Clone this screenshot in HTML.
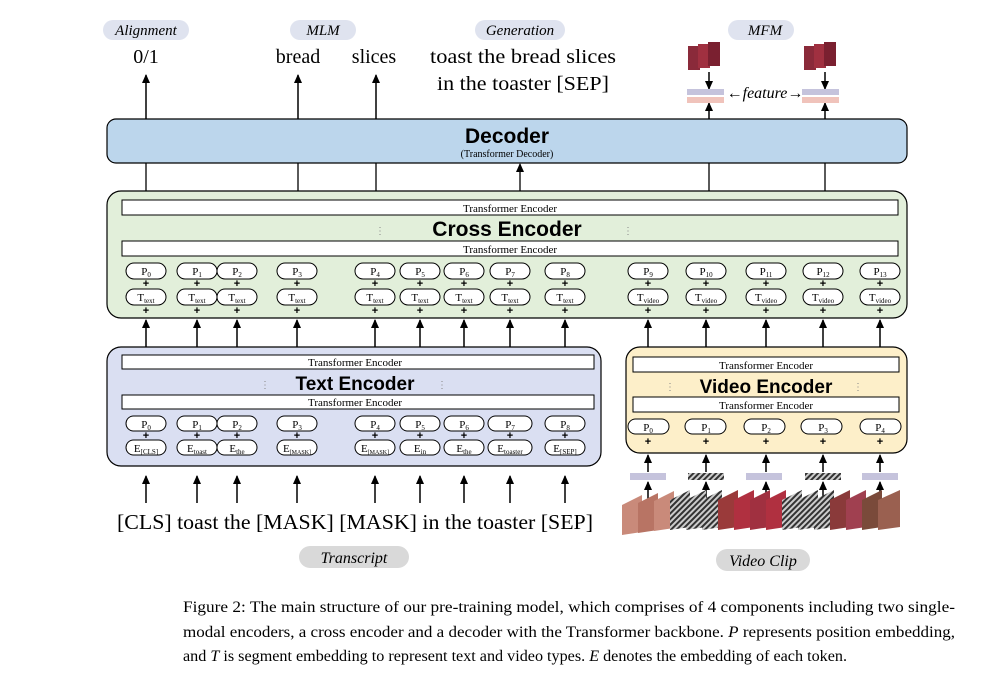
<!DOCTYPE html>
<html><head><meta charset="utf-8"><style>
body{margin:0;background:#fff}
svg{display:block}
.s{font-family:"Liberation Serif",serif}
.b{font-family:"Liberation Sans",sans-serif;font-weight:bold}
</style></head><body>
<svg width="984" height="674" viewBox="0 0 984 674" xmlns="http://www.w3.org/2000/svg">
<defs>
<marker id="a" markerWidth="9" markerHeight="8" refX="8" refY="4" orient="auto" markerUnits="userSpaceOnUse"><path d="M0,0 L9,4 L0,8 Z" fill="#000"/></marker>
<pattern id="h" width="4" height="4" patternUnits="userSpaceOnUse" patternTransform="rotate(45)"><rect width="4" height="4" fill="#ccc"/><rect width="2" height="4" fill="#333"/></pattern>
</defs>
<g class="s" font-style="italic" font-size="15" text-anchor="middle">
<rect x="103" y="20" width="86" height="20" rx="10" fill="#dfe3ef"/><text x="146" y="35">Alignment</text>
<rect x="290" y="20" width="66" height="20" rx="10" fill="#dfe3ef"/><text x="323" y="35">MLM</text>
<rect x="475" y="20" width="90" height="20" rx="10" fill="#dfe3ef"/><text x="520" y="35">Generation</text>
<rect x="728" y="20" width="66" height="20" rx="10" fill="#dfe3ef"/><text x="765" y="35">MFM</text>
</g>
<g class="s" font-size="20" text-anchor="middle">
<text x="146" y="63">0/1</text><text x="298" y="63">bread</text><text x="374" y="63">slices</text>
<text x="523" y="63" textLength="186" lengthAdjust="spacingAndGlyphs">toast the bread slices</text><text x="523" y="90" textLength="172" lengthAdjust="spacingAndGlyphs">in the toaster [SEP]</text>
</g>
<g stroke="#000" stroke-width="1.5">
<line x1="146" y1="119" x2="146" y2="75" marker-end="url(#a)"/>
<line x1="298" y1="119" x2="298" y2="75" marker-end="url(#a)"/>
<line x1="376" y1="119" x2="376" y2="75" marker-end="url(#a)"/>
<line x1="709" y1="119" x2="709" y2="103" marker-end="url(#a)"/>
<line x1="825" y1="119" x2="825" y2="103" marker-end="url(#a)"/>
<line x1="709" y1="72" x2="709" y2="89" marker-end="url(#a)"/>
<line x1="825" y1="72" x2="825" y2="89" marker-end="url(#a)"/>
</g>
<g>
<rect x="688" y="46" width="12" height="24" fill="#8a2a3a"/><rect x="698" y="44" width="12" height="24" fill="#a03040"/><rect x="708" y="42" width="12" height="24" fill="#7a2030"/>
<rect x="804" y="46" width="12" height="24" fill="#8a2a3a"/><rect x="814" y="44" width="12" height="24" fill="#a03040"/><rect x="824" y="42" width="12" height="24" fill="#7a2030"/>
<rect x="687" y="89" width="37" height="6" fill="#c5c3dc"/><rect x="687" y="97" width="37" height="6" fill="#f0c3bb"/>
<rect x="802" y="89" width="37" height="6" fill="#c5c3dc"/><rect x="802" y="97" width="37" height="6" fill="#f0c3bb"/>
<text x="765" y="98" class="s" font-style="italic" font-size="16" text-anchor="middle">←feature→</text>
</g>
<rect x="107" y="119" width="800" height="44" rx="9" fill="#bcd6ec" stroke="#000" stroke-width="1.2"/>
<text x="507" y="143" class="b" font-size="21" text-anchor="middle">Decoder</text>
<text x="507" y="157" class="s" font-size="10" text-anchor="middle">(Transformer Decoder)</text>
<g stroke="#000" stroke-width="1.3">
<line x1="146" y1="163" x2="146" y2="191"/><line x1="298" y1="163" x2="298" y2="191"/><line x1="376" y1="163" x2="376" y2="191"/>
<line x1="709" y1="163" x2="709" y2="191"/><line x1="825" y1="163" x2="825" y2="191"/>
<line x1="520" y1="191" x2="520" y2="164" marker-end="url(#a)"/>
</g>
<rect x="107" y="191" width="800" height="127" rx="14" fill="#e2efda" stroke="#000" stroke-width="1.2"/>
<rect x="122" y="200" width="776" height="15" fill="#fff" stroke="#000"/>
<text x="510" y="212" class="s" font-size="11" text-anchor="middle">Transformer Encoder</text>
<text x="507" y="236" class="b" font-size="21" text-anchor="middle">Cross Encoder</text>
<text x="380" y="234" font-size="10" fill="#888" text-anchor="middle">⋮</text><text x="628" y="234" font-size="10" fill="#888" text-anchor="middle">⋮</text>
<rect x="122" y="241" width="776" height="15" fill="#fff" stroke="#000"/>
<text x="510" y="253" class="s" font-size="11" text-anchor="middle">Transformer Encoder</text>
<g class="s" font-size="11" text-anchor="middle" stroke="#000" fill="#fff">
<g id="cp">
<rect x="126" y="263" width="40" height="16" rx="8"/><rect x="177" y="263" width="40" height="16" rx="8"/><rect x="217" y="263" width="40" height="16" rx="8"/><rect x="277" y="263" width="40" height="16" rx="8"/>
<rect x="355" y="263" width="40" height="16" rx="8"/><rect x="400" y="263" width="40" height="16" rx="8"/><rect x="444" y="263" width="40" height="16" rx="8"/><rect x="490" y="263" width="40" height="16" rx="8"/><rect x="545" y="263" width="40" height="16" rx="8"/>
<rect x="628" y="263" width="40" height="16" rx="8"/><rect x="686" y="263" width="40" height="16" rx="8"/><rect x="746" y="263" width="40" height="16" rx="8"/><rect x="803" y="263" width="40" height="16" rx="8"/><rect x="860" y="263" width="40" height="16" rx="8"/>
</g>
<use href="#cp" y="26"/>
</g>
<g class="s" font-size="11" text-anchor="middle">
<text x="146" y="275">P<tspan font-size="7" dy="2">0</tspan></text><text x="197" y="275">P<tspan font-size="7" dy="2">1</tspan></text><text x="237" y="275">P<tspan font-size="7" dy="2">2</tspan></text><text x="297" y="275">P<tspan font-size="7" dy="2">3</tspan></text>
<text x="375" y="275">P<tspan font-size="7" dy="2">4</tspan></text><text x="420" y="275">P<tspan font-size="7" dy="2">5</tspan></text><text x="464" y="275">P<tspan font-size="7" dy="2">6</tspan></text><text x="510" y="275">P<tspan font-size="7" dy="2">7</tspan></text><text x="565" y="275">P<tspan font-size="7" dy="2">8</tspan></text>
<text x="648" y="275">P<tspan font-size="7" dy="2">9</tspan></text><text x="706" y="275">P<tspan font-size="7" dy="2">10</tspan></text><text x="766" y="275">P<tspan font-size="7" dy="2">11</tspan></text><text x="823" y="275">P<tspan font-size="7" dy="2">12</tspan></text><text x="880" y="275">P<tspan font-size="7" dy="2">13</tspan></text>
<text x="146" y="301">T<tspan font-size="7" dy="2">text</tspan></text><text x="197" y="301">T<tspan font-size="7" dy="2">text</tspan></text><text x="237" y="301">T<tspan font-size="7" dy="2">text</tspan></text><text x="297" y="301">T<tspan font-size="7" dy="2">text</tspan></text>
<text x="375" y="301">T<tspan font-size="7" dy="2">text</tspan></text><text x="420" y="301">T<tspan font-size="7" dy="2">text</tspan></text><text x="464" y="301">T<tspan font-size="7" dy="2">text</tspan></text><text x="510" y="301">T<tspan font-size="7" dy="2">text</tspan></text><text x="565" y="301">T<tspan font-size="7" dy="2">text</tspan></text>
<text x="648" y="301">T<tspan font-size="7" dy="2">video</tspan></text><text x="706" y="301">T<tspan font-size="7" dy="2">video</tspan></text><text x="766" y="301">T<tspan font-size="7" dy="2">video</tspan></text><text x="823" y="301">T<tspan font-size="7" dy="2">video</tspan></text><text x="880" y="301">T<tspan font-size="7" dy="2">video</tspan></text>
</g>
<g font-family="Liberation Sans" font-weight="bold" font-size="11" text-anchor="middle">
<g id="pl"><text x="146" y="287">+</text><text x="197" y="287">+</text><text x="237" y="287">+</text><text x="297" y="287">+</text><text x="375" y="287">+</text><text x="420" y="287">+</text><text x="464" y="287">+</text><text x="510" y="287">+</text><text x="565" y="287">+</text></g>
<use href="#pl" y="27"/>
<g id="pv"><text x="648" y="287">+</text><text x="706" y="287">+</text><text x="766" y="287">+</text><text x="823" y="287">+</text><text x="880" y="287">+</text></g>
<use href="#pv" y="27"/>
</g>
<g stroke="#000" stroke-width="1.5">
<g id="ta"><line x1="146" y1="347" x2="146" y2="320" marker-end="url(#a)"/><line x1="197" y1="347" x2="197" y2="320" marker-end="url(#a)"/><line x1="237" y1="347" x2="237" y2="320" marker-end="url(#a)"/><line x1="297" y1="347" x2="297" y2="320" marker-end="url(#a)"/><line x1="375" y1="347" x2="375" y2="320" marker-end="url(#a)"/><line x1="420" y1="347" x2="420" y2="320" marker-end="url(#a)"/><line x1="464" y1="347" x2="464" y2="320" marker-end="url(#a)"/><line x1="510" y1="347" x2="510" y2="320" marker-end="url(#a)"/><line x1="565" y1="347" x2="565" y2="320" marker-end="url(#a)"/></g>
<line x1="648" y1="347" x2="648" y2="320" marker-end="url(#a)"/><line x1="706" y1="347" x2="706" y2="320" marker-end="url(#a)"/><line x1="766" y1="347" x2="766" y2="320" marker-end="url(#a)"/><line x1="823" y1="347" x2="823" y2="320" marker-end="url(#a)"/><line x1="880" y1="347" x2="880" y2="320" marker-end="url(#a)"/>
<g transform="translate(0,156)"><use href="#ta"/></g>
</g>
<rect x="107" y="347" width="494" height="119" rx="14" fill="#dadff2" stroke="#000" stroke-width="1.2"/>
<rect x="122" y="355" width="472" height="14" fill="#fff" stroke="#000"/>
<text x="355" y="366" class="s" font-size="11" text-anchor="middle">Transformer Encoder</text>
<text x="355" y="390" class="b" font-size="19" text-anchor="middle">Text Encoder</text>
<text x="265" y="388" font-size="10" fill="#888" text-anchor="middle">⋮</text><text x="442" y="388" font-size="10" fill="#888" text-anchor="middle">⋮</text>
<rect x="122" y="395" width="472" height="14" fill="#fff" stroke="#000"/>
<text x="355" y="406" class="s" font-size="11" text-anchor="middle">Transformer Encoder</text>
<g stroke="#000" fill="#fff">
<g id="tp"><rect x="126" y="416" width="40" height="15" rx="7.5"/><rect x="177" y="416" width="40" height="15" rx="7.5"/><rect x="217" y="416" width="40" height="15" rx="7.5"/><rect x="277" y="416" width="40" height="15" rx="7.5"/><rect x="355" y="416" width="40" height="15" rx="7.5"/><rect x="400" y="416" width="40" height="15" rx="7.5"/><rect x="444" y="416" width="40" height="15" rx="7.5"/><rect x="488" y="416" width="44" height="15" rx="7.5"/><rect x="545" y="416" width="40" height="15" rx="7.5"/></g>
<use href="#tp" y="24"/>
</g>
<g class="s" font-size="11" text-anchor="middle">
<text x="146" y="428">P<tspan font-size="7" dy="2">0</tspan></text><text x="197" y="428">P<tspan font-size="7" dy="2">1</tspan></text><text x="237" y="428">P<tspan font-size="7" dy="2">2</tspan></text><text x="297" y="428">P<tspan font-size="7" dy="2">3</tspan></text><text x="375" y="428">P<tspan font-size="7" dy="2">4</tspan></text><text x="420" y="428">P<tspan font-size="7" dy="2">5</tspan></text><text x="464" y="428">P<tspan font-size="7" dy="2">6</tspan></text><text x="510" y="428">P<tspan font-size="7" dy="2">7</tspan></text><text x="565" y="428">P<tspan font-size="7" dy="2">8</tspan></text>
<text x="146" y="452">E<tspan font-size="7" dy="2">[CLS]</tspan></text><text x="197" y="452">E<tspan font-size="7" dy="2">toast</tspan></text><text x="237" y="452">E<tspan font-size="7" dy="2">the</tspan></text><text x="297" y="452">E<tspan font-size="6" dy="2">[MASK]</tspan></text><text x="375" y="452">E<tspan font-size="6" dy="2">[MASK]</tspan></text><text x="420" y="452">E<tspan font-size="7" dy="2">in</tspan></text><text x="464" y="452">E<tspan font-size="7" dy="2">the</tspan></text><text x="510" y="452">E<tspan font-size="7" dy="2">toaster</tspan></text><text x="565" y="452">E<tspan font-size="7" dy="2">[SEP]</tspan></text>
</g>
<g font-family="Liberation Sans" font-weight="bold" font-size="11" text-anchor="middle"><use href="#pl" y="152"/></g>
<text x="355" y="529" class="s" font-size="21" text-anchor="middle" textLength="476" lengthAdjust="spacingAndGlyphs">[CLS] toast the [MASK] [MASK] in the toaster [SEP]</text>
<rect x="299" y="546" width="110" height="22" rx="11" fill="#d9d9d9"/>
<text x="354" y="563" class="s" font-style="italic" font-size="16" text-anchor="middle">Transcript</text>
<rect x="626" y="347" width="281" height="106" rx="14" fill="#fdefc9" stroke="#000" stroke-width="1.2"/>
<rect x="633" y="357" width="266" height="15" fill="#fff" stroke="#000"/>
<text x="766" y="369" class="s" font-size="11" text-anchor="middle">Transformer Encoder</text>
<text x="766" y="393" class="b" font-size="19" text-anchor="middle">Video Encoder</text>
<text x="670" y="390" font-size="10" fill="#888" text-anchor="middle">⋮</text><text x="858" y="390" font-size="10" fill="#888" text-anchor="middle">⋮</text>
<rect x="633" y="397" width="266" height="15" fill="#fff" stroke="#000"/>
<text x="766" y="409" class="s" font-size="11" text-anchor="middle">Transformer Encoder</text>
<g stroke="#000" fill="#fff"><rect x="628" y="419" width="41" height="15" rx="7.5"/><rect x="685" y="419" width="41" height="15" rx="7.5"/><rect x="744" y="419" width="41" height="15" rx="7.5"/><rect x="801" y="419" width="41" height="15" rx="7.5"/><rect x="860" y="419" width="41" height="15" rx="7.5"/></g>
<g class="s" font-size="11" text-anchor="middle"><text x="648" y="431">P<tspan font-size="7" dy="2">0</tspan></text><text x="706" y="431">P<tspan font-size="7" dy="2">1</tspan></text><text x="766" y="431">P<tspan font-size="7" dy="2">2</tspan></text><text x="823" y="431">P<tspan font-size="7" dy="2">3</tspan></text><text x="880" y="431">P<tspan font-size="7" dy="2">4</tspan></text></g>
<g font-family="Liberation Sans" font-weight="bold" font-size="11" text-anchor="middle"><use href="#pv" y="158"/></g>
<g stroke="#000" stroke-width="1.5">
<g id="va"><line x1="648" y1="472" x2="648" y2="455" marker-end="url(#a)"/><line x1="706" y1="472" x2="706" y2="455" marker-end="url(#a)"/><line x1="766" y1="472" x2="766" y2="455" marker-end="url(#a)"/><line x1="823" y1="472" x2="823" y2="455" marker-end="url(#a)"/><line x1="880" y1="472" x2="880" y2="455" marker-end="url(#a)"/></g>
<g transform="translate(0,27)"><use href="#va"/></g>
</g>
<rect x="630" y="473" width="36" height="7" fill="#c5c3dc"/><rect x="688" y="473" width="36" height="7" fill="url(#h)"/><rect x="746" y="473" width="36" height="7" fill="#c5c3dc"/><rect x="805" y="473" width="36" height="7" fill="url(#h)"/><rect x="862" y="473" width="36" height="7" fill="#c5c3dc"/>
<g>
<polygon points="622,505 642,495 642,532 622,535" fill="#c98a7a"/><polygon points="638,503 658,493 658,530 638,533" fill="#b87464"/><polygon points="654,501 674,491 674,528 654,531" fill="#c98a7a"/>
<polygon points="670,500 690,490 690,527 670,530" fill="url(#h)"/><polygon points="686,500 706,490 706,527 686,530" fill="url(#h)"/><polygon points="702,500 722,490 722,527 702,530" fill="url(#h)"/>
<polygon points="718,500 738,490 738,527 718,530" fill="#9a3a3a"/><polygon points="734,500 754,490 754,527 734,530" fill="#b03040"/><polygon points="750,500 770,490 770,527 750,530" fill="#a03040"/><polygon points="766,500 786,490 786,527 766,530" fill="#b03040"/>
<polygon points="782,500 802,490 802,527 782,530" fill="url(#h)"/><polygon points="798,500 818,490 818,527 798,530" fill="url(#h)"/><polygon points="814,500 834,490 834,527 814,530" fill="url(#h)"/>
<polygon points="830,500 850,490 850,527 830,530" fill="#8a3a3a"/><polygon points="846,500 866,490 866,527 846,530" fill="#a04050"/><polygon points="862,500 882,490 882,527 862,530" fill="#7a4a3a"/><polygon points="878,500 900,490 900,527 878,530" fill="#9a6050"/>
</g>
<rect x="716" y="549" width="94" height="22" rx="11" fill="#d9d9d9"/>
<text x="763" y="566" class="s" font-style="italic" font-size="16" text-anchor="middle">Video Clip</text>
<g class="s" font-size="16">
<text x="183" y="612" textLength="772" lengthAdjust="spacingAndGlyphs">Figure 2: The main structure of our pre-training model, which comprises of 4 components including two single-</text>
<text x="183" y="637" textLength="772" lengthAdjust="spacingAndGlyphs">modal encoders, a cross encoder and a decoder with the Transformer backbone. <tspan font-style="italic">P</tspan> represents position embedding,</text>
<text x="183" y="661" textLength="664" lengthAdjust="spacingAndGlyphs">and <tspan font-style="italic">T</tspan> is segment embedding to represent text and video types. <tspan font-style="italic">E</tspan> denotes the embedding of each token.</text>
</g>
</svg>
</body></html>
